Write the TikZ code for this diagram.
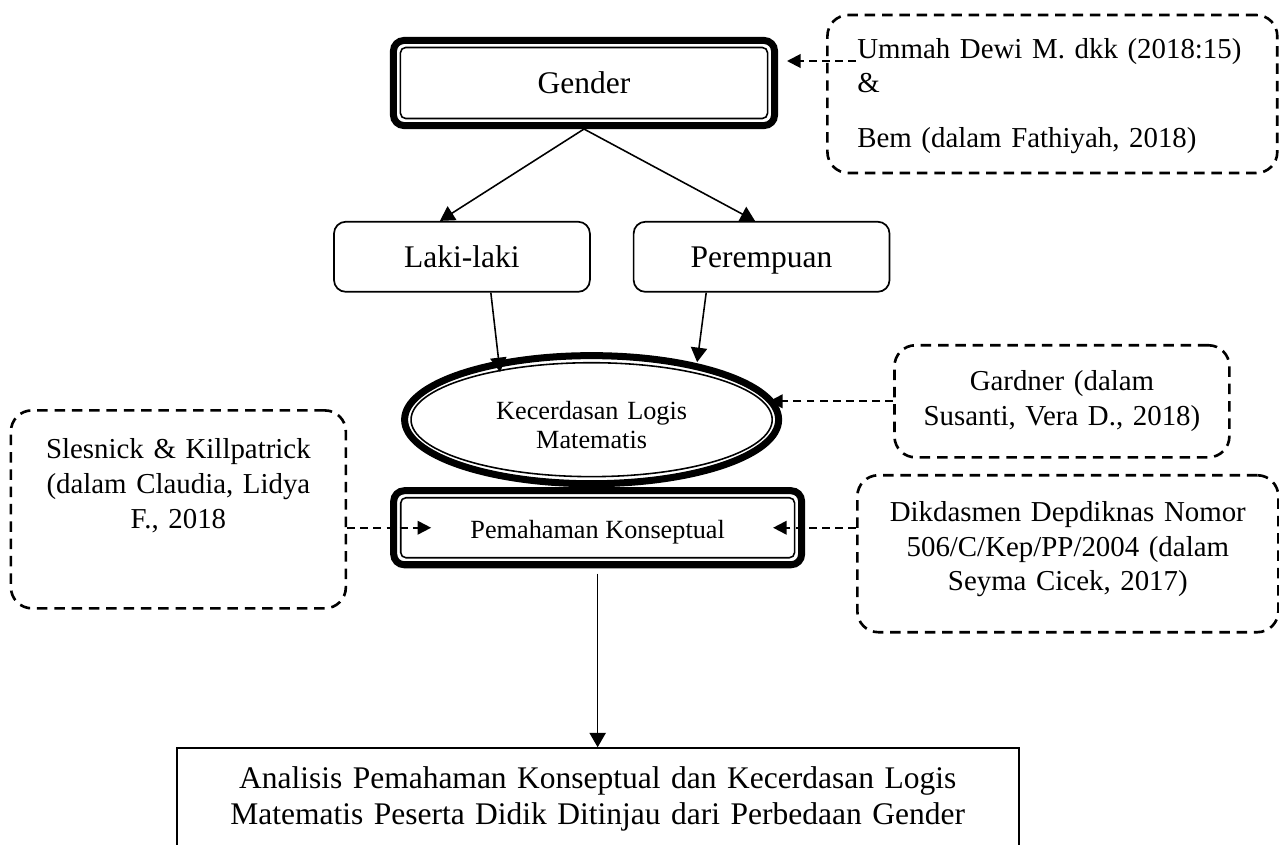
\documentclass[tikz,border=0pt]{standalone}
\usepackage{fontspec}
\setmainfont{Liberation Serif}
\usetikzlibrary{arrows.meta, positioning, shapes.geometric}

\begin{document}
\begin{tikzpicture}[
    x=0.381pt, y=0.381pt,
    every node/.style={font=\fontsize{12}{13.8}\selectfont},
    mainbox/.style={rectangle, draw, line width=2.67pt, rounded corners=4pt},
    ellipsebox/.style={ellipse, draw, line width=2.67pt, inner sep=0pt, minimum width=142.5pt, minimum height=48.8pt, text width=75pt, align=center, font=\fontsize{10}{11}\selectfont},
    choicebox/.style={rectangle, draw, line width=0.65pt, rounded corners=4.5pt, minimum width=97.5pt, minimum height=26.7pt, text height=8.2pt, text depth=0pt},
    refbox/.style={rectangle, draw, line width=1pt, dash pattern=on 4pt off 2.6pt, rounded corners=8pt, align=center, font=\fontsize{11}{13.3}\selectfont},
    resultbox/.style={rectangle, draw, line width=0.75pt, minimum width=320.8pt, minimum height=38.9pt, text width=300pt, align=center},
    innerline/.style={line width=0.6pt, rounded corners=2pt},
    arrow/.style={-{Triangle[length=5.5pt, width=6.2pt]}, line width=0.6pt},
    refarrow/.style={-{Triangle[length=5.2pt, width=5.2pt]}, line width=0.75pt, dash pattern=on 3pt off 2pt}
]

% picture size
\useasboundingbox (0,0) rectangle (1279,-844);

% gender
\node[mainbox, minimum width=145.2pt, minimum height=32.4pt] (gender) at (584,-83) {Gender};
\node[refbox, align=left, text width=148.6pt, inner xsep=11.4pt, minimum height=60.2pt, text height=7.8pt, text depth=35.2pt, right=18.3pt of gender, yshift=-4.2pt] (ummah) {Ummah Dewi M. dkk (2018:15)\\\&\\[7.6pt]Bem (dalam Fathiyah, 2018)};

% laki-laki / perempuan
\node[choicebox, below=35pt of gender, xshift=-46.5pt] (laki) {Laki-laki};
\node[choicebox, right=16pt of laki] (perempuan) {Perempuan};

% kecerdasan logis matematis
\node[ellipsebox, text height=10.6pt, text depth=11pt, below=85pt of gender, xshift=2.9pt] (logis) {Kecerdasan Logis\\Matematis};
\node[refbox, text width=115pt, minimum width=127.6pt, minimum height=42.7pt, right=42.3pt of logis, yshift=7pt] (gardner) {Gardner (dalam\\Susanti, Vera D., 2018)};

% pemahaman konseptual
\node[mainbox, font=\fontsize{10}{11}\selectfont, text height=10.2pt, text depth=2.2pt, minimum width=155.4pt, minimum height=28.2pt, below=0pt of logis, xshift=2.3pt] (pemahaman) {Pemahaman Konseptual};
\node[refbox, text width=115pt, minimum width=127.6pt, minimum height=75.4pt, text height=7.8pt, text depth=46.6pt, left=16.4pt of pemahaman, yshift=7pt] (slesnick) {Slesnick \& Killpatrick\\(dalam Claudia, Lidya\\F., 2018};
\node[refbox, text width=150pt, minimum width=160.4pt, minimum height=59.8pt, text height=7.8pt, text depth=32.6pt, right=19.4pt of pemahaman, yshift=-9.9pt] (dikdasmen) {Dikdasmen Depdiknas Nomor\\506/C/Kep/PP/2004 (dalam\\Seyma Cicek, 2017)};

% analisis
\node[resultbox, below=68.2pt of pemahaman] (analisis) {Analisis Pemahaman Konseptual dan Kecerdasan Logis\\Matematis Peserta Didik Ditinjau dari Perbedaan Gender};

% inner lines
\draw[innerline] ([shift={(4pt,-4pt)}]gender.north west) rectangle ([shift={(-4pt,4pt)}]gender.south east);
\draw[innerline] ([shift={(4pt,-4pt)}]pemahaman.north west) rectangle ([shift={(-4pt,4pt)}]pemahaman.south east);
\draw[line width=0.6pt] (logis.center) ellipse [x radius=68.8pt, y radius=21.7pt];

% arrows
\draw[arrow] (gender.south) -- ([xshift=-8.4pt]laki.north);
\draw[arrow] (gender.south) -- ([xshift=-2.5pt]perempuan.north);
\draw[arrow] ([xshift=11pt]laki.south) -- ([xshift=-34.9pt, yshift=-7.6pt]logis.north);
\draw[arrow] ([xshift=-21.1pt]perempuan.south) -- ([xshift=40.2pt, yshift=-3.8pt]logis.north);
\draw[arrow, shorten <=2pt] (pemahaman.south) -- (analisis.north);

% reference arrows
\coordinate (ummah-in) at (856,-61);
\draw[refarrow, shorten >=3.4pt] (ummah-in) -- (gender.east |- ummah-in);
\draw[refarrow, shorten >=-5pt] (gardner.west) -- (logis.east |- gardner.west);
\draw[refarrow, shorten >=-15.6pt] (slesnick.east |- pemahaman.west) -- (pemahaman.west);
\draw[refarrow, shorten >=-12.2pt] (dikdasmen.west |- pemahaman.east) -- (pemahaman.east);
\end{tikzpicture}
\end{document}
